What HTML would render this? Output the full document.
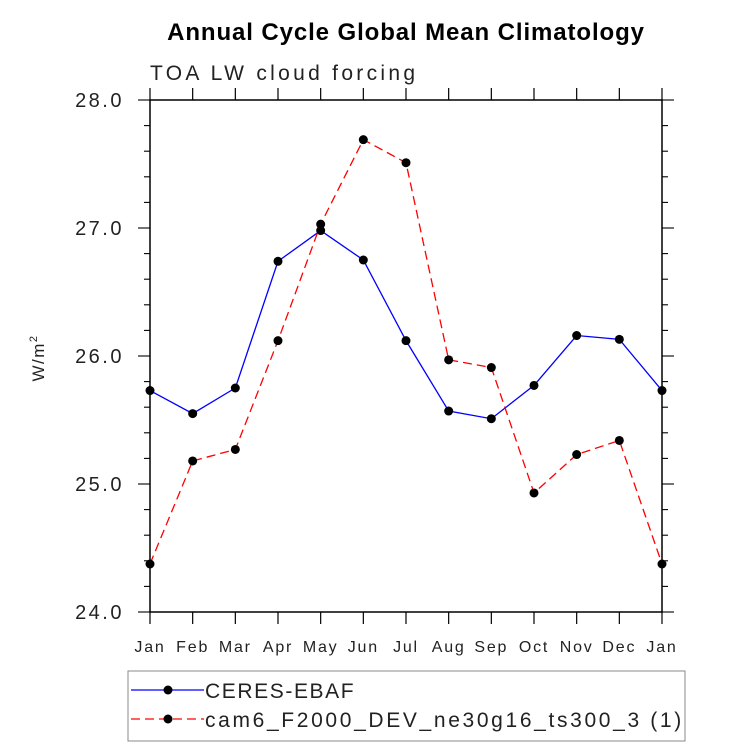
<!DOCTYPE html>
<html><head><meta charset="utf-8"><style>
body{margin:0;background:#fff;}
svg text{font-family:"Liberation Sans",sans-serif;}
</style></head><body>
<svg id="chart" width="733" height="746" xmlns="http://www.w3.org/2000/svg">
<text x="406" y="40" text-anchor="middle" font-size="24" font-weight="bold" letter-spacing="0.9">Annual Cycle Global Mean Climatology</text>
<text x="150" y="80" font-size="21" fill="#222" letter-spacing="3.3">TOA LW cloud forcing</text>
<text transform="translate(44,358) rotate(-90)" text-anchor="middle" font-size="17" fill="#222" letter-spacing="1.5">W/m<tspan dy="-7" font-size="11">2</tspan></text>
<rect x="150" y="100" width="512" height="512" fill="none" stroke="#000" stroke-width="1.5"/>
<g id="axes"></g>
<g id="series"></g>
<rect x="128" y="671" width="557" height="70" fill="none" stroke="#888" stroke-width="1"/>
<g>
<line x1="131" y1="690" x2="204" y2="690" stroke="#00f" stroke-width="1.3"/>
<circle cx="168" cy="690" r="4.5" fill="#000"/>
<text x="205" y="698" font-size="21" fill="#222" letter-spacing="1.6">CERES-EBAF</text>
</g>
<g>
<line x1="131" y1="719" x2="204" y2="719" stroke="#f00" stroke-width="1.3" stroke-dasharray="9,5"/>
<circle cx="168" cy="719" r="4.5" fill="#000"/>
<text x="205" y="727" font-size="21" fill="#222" letter-spacing="2.65">cam6_F2000_DEV_ne30g16_ts300_3 (1)</text>
</g>
</svg>
<script>
const months=["Jan","Feb","Mar","Apr","May","Jun","Jul","Aug","Sep","Oct","Nov","Dec","Jan"];
const ceres=[25.73,25.55,25.75,26.74,26.98,26.75,26.12,25.57,25.51,25.77,26.16,26.13,25.73];
const cam6=[24.375,25.18,25.27,26.12,27.03,27.69,27.51,25.97,25.91,24.93,25.23,25.34,24.375];
const yTicks=[24.0,25.0,26.0,27.0,28.0];
const NS="http://www.w3.org/2000/svg";
const X0=150,X1=662,Y0=612,Y1=100,YMIN=24,YMAX=28;
const xs=i=>X0+i*(X1-X0)/(months.length-1);
const ys=v=>Y0-(v-YMIN)/(YMAX-YMIN)*(Y0-Y1);
function mk(t,a){const e=document.createElementNS(NS,t);for(const k in a)e.setAttribute(k,a[k]);return e;}
const ax=document.getElementById('axes');
months.forEach((m,i)=>{
 const x=xs(i);
 const tb=mk('line',{x1:x,y1:Y0,x2:x,y2:Y0+12,stroke:'#000','stroke-width':1.2});
 
 
 ax.appendChild(tb);
 const tt=mk('line',{x1:x,y1:Y1,x2:x,y2:Y1-12,stroke:'#000','stroke-width':1.2});
 
 
 ax.appendChild(tt);
 const l=mk('text',{x:x,y:652,'text-anchor':'middle','font-size':16,fill:'#222','letter-spacing':1.8});
 l.textContent=m;
 
 
 ax.appendChild(l);
});
for(let v=YMIN;v<=YMAX+1e-9;v+=0.2){
 const y=ys(v);const major=Math.abs(v-Math.round(v))<1e-6;const len=major?12:6;
 const a=mk('line',{x1:X0,y1:y,x2:X0-len,y2:y,stroke:'#000','stroke-width':1.1});
 
 
 ax.appendChild(a);
 const b=mk('line',{x1:X1,y1:y,x2:X1+len,y2:y,stroke:'#000','stroke-width':1.1});
 
 
 ax.appendChild(b);
}
yTicks.forEach(v=>{
 const t=mk('text',{x:124,y:ys(v)+7,'text-anchor':'end','font-size':20,fill:'#222','letter-spacing':2.5});
 t.textContent=v.toFixed(1);
 
 
 ax.appendChild(t);
});
const sg=document.getElementById('series');
function draw(vals,color,dash,name){
 const p=mk('polyline',{points:vals.map((v,i)=>xs(i)+','+ys(v)).join(' '),fill:'none',stroke:color,'stroke-width':1.3});
 if(dash)p.setAttribute('stroke-dasharray',dash);
 
 
 sg.appendChild(p);
 vals.forEach((v,i)=>{
  const c=mk('circle',{cx:xs(i),cy:ys(v),r:4.5,fill:'#000'});
  
  
  sg.appendChild(c);
 });
}
draw(ceres,'#00f',null,'ceres');
draw(cam6,'#f00','9,5','cam6');
</script>
</body></html>
